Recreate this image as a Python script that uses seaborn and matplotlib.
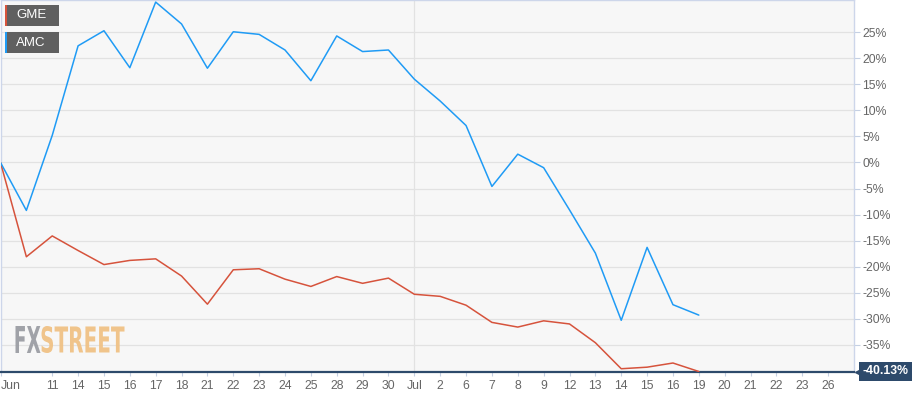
import matplotlib
matplotlib.use("Agg")
import matplotlib.pyplot as plt
import numpy as np
import pandas as pd
import seaborn as sns
from matplotlib.patches import PathPatch, Rectangle
from matplotlib.textpath import TextPath
from matplotlib.font_manager import FontProperties
from matplotlib.transforms import Affine2D, IdentityTransform, blended_transform_factory

# trading days, 9 Jun .. 26 Jul (label for 10 Jun is hidden on the chart)
day_labels = ["Jun", "", "11", "14", "15", "16", "17", "18", "21", "22", "23", "24",
              "25", "28", "29", "30", "Jul", "2", "6", "7", "8", "9", "12", "13",
              "14", "15", "16", "19", "20", "21", "22", "23", "26"]

# % change since 9 Jun
gme = [0, -18.1, -14.1, -16.9, -19.6, -18.8, -18.5, -21.8, -27.2, -20.6, -20.4, -22.4,
       -23.8, -21.9, -23.2, -22.2, -25.3, -25.7, -27.4, -30.7, -31.6, -30.4, -31.0,
       -34.6, -39.6, -39.3, -38.5, -40.13]
amc = [0, -9.2, 5.2, 22.4, 25.3, 18.2, 30.8, 26.6, 18.1, 25.1, 24.6, 21.6,
       15.7, 24.3, 21.3, 21.6, 16.0, 11.8, 7.1, -4.6, 1.6, -1.0, -9.1,
       -17.4, -30.3, -16.3, -27.3, -29.3]
tickers = ["GME", "AMC"]
y_ticks = [25, 20, 15, 10, 5, 0, -5, -10, -15, -20, -25, -30, -35]

colors = {"GME": "#d6533c", "AMC": "#1f9bf5"}

df = pd.concat([
    pd.DataFrame({"idx": np.arange(len(gme)), "pct": gme, "ticker": "GME"}),
    pd.DataFrame({"idx": np.arange(len(amc)), "pct": amc, "ticker": "AMC"}),
])

sns.set_theme(style="white")
plt.rcParams["font.family"] = ["Liberation Sans", "DejaVu Sans"]
W, H = 919, 399
fig = plt.figure(figsize=(W / 100, H / 100), dpi=100, facecolor="white")
ax = fig.add_axes([0.5 / W, 27.5 / H, 853.5 / W, 371.5 / H])
ax.set_facecolor("#f7f7f7")

sns.lineplot(data=df, x="idx", y="pct", hue="ticker", palette=colors,
             hue_order=tickers, legend=False, lw=1.1, ax=ax, zorder=3)

ax.set_xlim(0, 33)
ax.set_ylim(gme[-1], 31.2)
ax.set_xlabel("")
ax.set_ylabel("")

# grid
ax.set_yticks(y_ticks)
ax.set_yticklabels([f"{v}%" for v in y_ticks])
ax.yaxis.tick_right()
ax.grid(axis="y", color="#e2e2e2", lw=0.9)
ax.axvline(16, color="#e2e2e2", lw=0.9, zorder=0.6)
ax.set_axisbelow(True)

tick_pos = [i for i, lab in enumerate(day_labels) if lab]
ax.set_xticks(tick_pos)
ax.set_xticklabels([day_labels[i] for i in tick_pos])
ax.get_xticklabels()[0].set_horizontalalignment("left")

ax.tick_params(axis="y", right=True, length=4, width=0.8, color="#c5d0e3",
               labelsize=8.8, labelcolor="#666666", pad=2)
ax.tick_params(axis="x", bottom=True, length=3, width=0.8, color="#c5d0e3",
               labelsize=8.8, labelcolor="#666666", pad=3)

for side in ["left", "top", "right"]:
    ax.spines[side].set_color("#cdd6ea")
    ax.spines[side].set_linewidth(1.0)
ax.spines["bottom"].set_color("#2d4a6b")
ax.spines["bottom"].set_linewidth(1.6)

# last value flag
trans = blended_transform_factory(ax.transAxes, ax.transData)
ax.text(1.01, gme[-1], f"{gme[-1]:.2f}%", transform=trans, ha="left", va="center",
        fontsize=8.8, fontweight="bold", color="white", clip_on=False,
        bbox=dict(boxstyle="square,pad=0.3", fc="#2d4a6b", ec="none"))
ax.plot([1.005], [gme[-1]], marker="<", ms=5, color="#2d4a6b", transform=trans,
        clip_on=False, zorder=5)

# legend boxes in pixel coords
for i, name in enumerate(tickers):
    top = 5 + i * 27
    fig.add_artist(Rectangle((5 / W, (H - top - 21) / H), 54 / W, 21 / H,
                             transform=fig.transFigure, fc="#606060", ec="none", zorder=10))
    fig.add_artist(Rectangle((5 / W, (H - top - 21) / H), 2 / W, 21 / H,
                             transform=fig.transFigure, fc=colors[name], ec="none", zorder=11))
    fig.text(16 / W, (H - top - 10.5) / H, name, color="white", fontsize=9.5,
             va="center", ha="left", zorder=12)

# watermark
fp = FontProperties(family="DejaVu Sans", weight="bold")
for word, x0, x1, col in [("FX", 15.5, 40.5, "#9c9ea4"), ("STREET", 41.5, 124.5, "#f0c285")]:
    tp = TextPath((0, 0), word, size=30, prop=fp)
    ext = tp.get_extents()
    sx = (x1 - x0) / ext.width
    sy = 27 / ext.height
    tr = Affine2D().translate(-ext.x0, -ext.y0).scale(sx, sy).translate(x0, H - 353) + IdentityTransform()
    ax.add_patch(PathPatch(tp, fc=col, ec="none", transform=tr, zorder=1, alpha=0.95))

fig.savefig("out.png", dpi=100, facecolor="white")
